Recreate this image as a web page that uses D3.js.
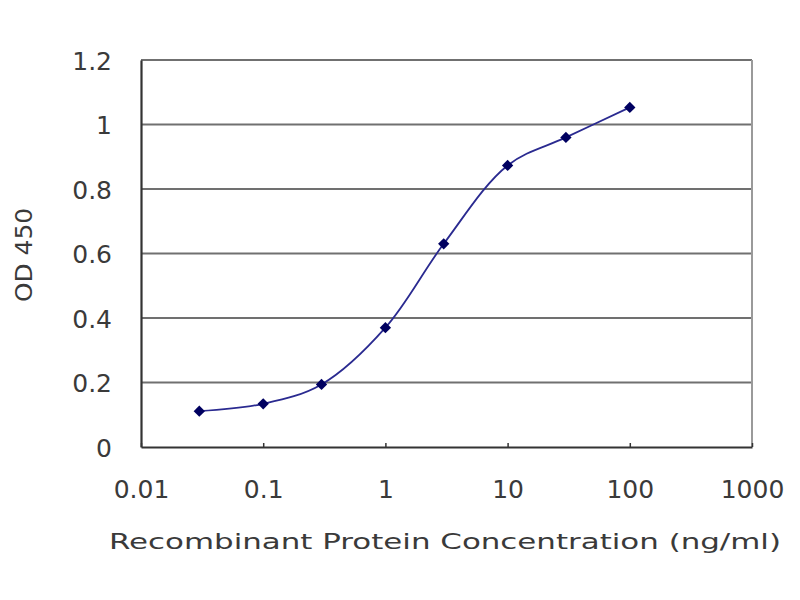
<!DOCTYPE html>
<html>
<head>
<meta charset="utf-8">
<script src="https://cdn.jsdelivr.net/npm/d3@7"></script>
<style>
  body { margin: 0; background: #fff; }
  text { font-family: "DejaVu Sans", sans-serif; fill: #3a3a3a; }
</style>
</head>
<body>
<svg id="chart" width="800" height="600"></svg>
<script>
var concentrations = [0.03, 0.1, 0.3, 1, 3, 10, 30, 100];
var odValues = [0.111, 0.134, 0.194, 0.37, 0.63, 0.873, 0.96, 1.053];
var xTickValues = [0.01, 0.1, 1, 10, 100, 1000];
var yTickValues = [0, 0.2, 0.4, 0.6, 0.8, 1, 1.2];

var svg = d3.select("#chart");
var margin = { top: 60, right: 48, bottom: 153, left: 141 };
var width = 800 - margin.left - margin.right;
var height = 600 - margin.top - margin.bottom;

var x = d3.scaleLog().domain([0.01, 1000]).range([0, width]);
var y = d3.scaleLinear().domain([0, 1.2]).range([height, 0]);

var g = svg.append("g")
    .attr("transform", "translate(" + margin.left + "," + margin.top + ")");

// gridlines
g.selectAll(".grid")
    .data(yTickValues.filter(d => d > 0))
    .enter().append("line")
        .attr("x1", 0)
        .attr("x2", width)
        .attr("y1", d => y(d))
        .attr("y2", d => y(d))
        .attr("stroke", "#707070")
        .attr("stroke-width", 2.2);

// right border
g.append("line")
    .attr("x1", width).attr("x2", width)
    .attr("y1", 0).attr("y2", height)
    .attr("stroke", "#9a9a9a")
    .attr("stroke-width", 2);

// axes
var xAxis = g.append("g")
    .attr("transform", "translate(0," + height + ")")
    .call(d3.axisBottom(x).tickValues(xTickValues).tickSizeInner(-4).tickSizeOuter(0)
        .tickFormat(d => d < 1 ? String(d) : d3.format("d")(d)));
xAxis.select(".domain").attr("stroke", "#333").attr("stroke-width", 2.2);
xAxis.selectAll(".tick line").attr("stroke", "#333").attr("stroke-width", 1.5);
xAxis.selectAll("text")
    .attr("y", 51)
    .attr("dy", 0)
    .style("font-size", "25px")
    .style("font-family", "DejaVu Sans, sans-serif")
    .attr("fill", "#333");

var yAxis = g.append("g")
    .call(d3.axisLeft(y).tickValues(yTickValues).tickSize(0)
        .tickFormat(d => d3.format("~g")(d)));
yAxis.select(".domain").attr("stroke", "#333").attr("stroke-width", 2.2);
yAxis.selectAll("text")
    .attr("x", -29)
    .attr("dy", "0.36em")
    .style("font-size", "25px")
    .style("font-family", "DejaVu Sans, sans-serif")
    .attr("fill", "#333");

// curve
var line = d3.line()
    .x((d, i) => x(concentrations[i]))
    .y(d => y(d))
    .curve(d3.curveCatmullRom.alpha(0.5));

g.append("path")
    .datum(odValues)
    .attr("d", line)
    .attr("fill", "none")
    .attr("stroke", "#2a2a90")
    .attr("stroke-width", 1.8);

g.selectAll(".pt")
    .data(odValues)
    .enter().append("path")
        .attr("d", d3.symbol().type(d3.symbolSquare).size(64))
        .attr("transform", (d, i) => "translate(" + x(concentrations[i]) + "," + y(d) + ") rotate(45)")
        .attr("fill", "#000060");

// axis titles
svg.append("text")
    .attr("x", 445)
    .attr("y", 549)
    .attr("text-anchor", "middle")
    .attr("textLength", 672)
    .attr("lengthAdjust", "spacingAndGlyphs")
    .style("font-size", "22px")
    .attr("fill", "#333")
    .text("Recombinant Protein Concentration (ng/ml)");

svg.append("text")
    .attr("transform", "translate(32,255) rotate(-90)")
    .attr("text-anchor", "middle")
    .attr("textLength", 94)
    .attr("lengthAdjust", "spacingAndGlyphs")
    .style("font-size", "23px")
    .attr("fill", "#333")
    .text("OD 450");
</script>
</body>
</html>
